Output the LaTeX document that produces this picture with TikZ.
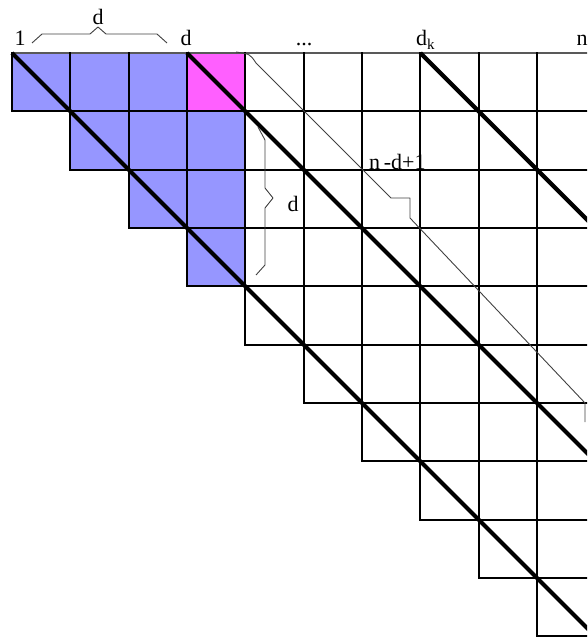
\documentclass[tikz,border=0pt]{standalone}
\usepackage{fontspec}
\setmainfont{Liberation Serif}
\definecolor{cellblue}{RGB}{150,150,255}
\definecolor{cellpink}{RGB}{255,95,255}
\begin{document}
\begin{tikzpicture}[x=1pt,y=-1pt,
  gridline/.style={line width=2.2pt, black, line cap=rect},
  diagline/.style={line width=4.2pt, black},
  bracel/.style={line width=0.9pt, black!75, line join=round},
  lab/.style={font=\fontsize{22}{24}\selectfont, inner sep=0pt, anchor=base}]
\useasboundingbox (0,0) rectangle (587,639);
\clip (0,0) rectangle (587,639);
% coloured cells
\foreach \r/\c in {0/0,0/1,0/2,1/1,1/2,1/3,2/2,2/3,3/3}
  \fill[cellblue] ({12+58.33*\c},{53+58.33*\r}) rectangle ++(58.33,58.33);
\fill[cellpink] ({12+58.33*3},53) rectangle ++(58.33,58.33);
% grid
\draw[gridline, black!65] (12,53) -- (600,53);
\foreach \r in {1,...,10}
  \draw[gridline] ({12+58.33*(\r-1)},{53+58.33*\r}) -- (600,{53+58.33*\r});
\foreach \c in {0,...,9}
  \draw[gridline] ({12+58.33*\c},53) -- ({12+58.33*\c},{53+58.33*(\c+1)});
% diagonals
\draw[diagline] (12,53) -- ++(620,620);
\draw[diagline] ({12+58.33*3},53) -- ++(450,450);
\draw[diagline] ({12+58.33*7},53) -- ++(250,250);
% braces
\draw[bracel] (32,43) -- (42,34) -- (90,34) -- (98,27) -- (106,34) -- (157,34) -- (167,43);
\draw[bracel] (258,127) -- (265,140) -- (265,188) -- (273,198) -- (265,208) -- (265,265) -- (256,275);
\draw[bracel] (236,52) .. controls (250,54) .. (256,63) -- (391,198) -- (410,198) -- (410,218) -- (585,403) -- (585,422);
% labels
\node[lab] (one) at (20,46) {1};
\node[lab] (dtop) at (98,25) {d};
\node[lab] (dcol) at (186,46) {d};
\node[lab] (dots) at (304,46) {...};
\node[lab, anchor=base west] (dk) at (416,46) {d\raisebox{-0.35ex}{\fontsize{15}{15}\selectfont k}};
\node[lab] (nlab) at (582,46) {n};
\node[lab, anchor=base west] (ndl) at (369,169) {n\,-d+1};
\node[lab] (dside) at (293,211) {d};
\end{tikzpicture}
\end{document}
